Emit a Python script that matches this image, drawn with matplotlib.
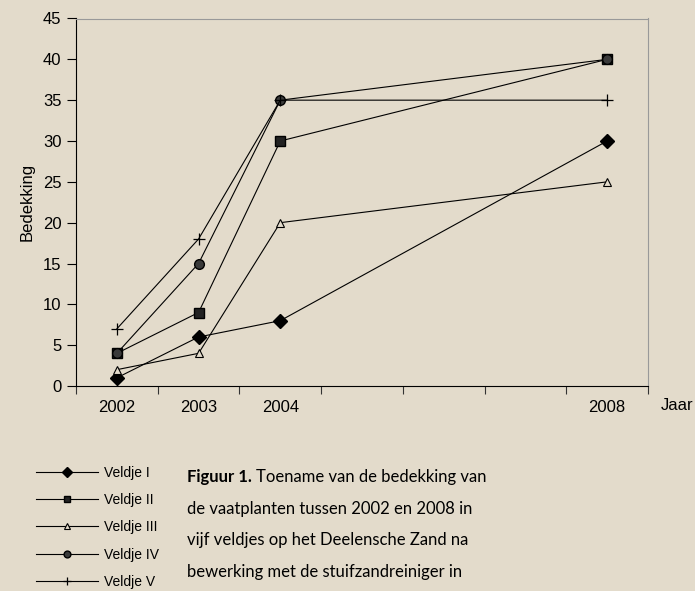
import numpy as np
import matplotlib.pyplot as plt

jaren = ["2002", "2003", "2004", "", "", "", "2008"]
pos = [0, 1, 2, 6]

veldje_1 = [1, 6, 8, 30]
veldje_2 = [4, 9, 30, 40]
veldje_3 = [2, 4, 20, 25]
veldje_4 = [4, 15, 35, 40]
veldje_5 = [7, 18, 35, 35]
namen = ["Veldje I", "Veldje II", "Veldje III", "Veldje IV", "Veldje V"]

bg = "#e3dbcb"
plt.rcParams['font.family'] = ['Liberation Sans', 'DejaVu Sans']

fig = plt.figure(figsize=(6.95, 5.91), dpi=100, facecolor=bg)
ax = fig.add_axes([76/695, 1-386/591, (648-76)/695, (386-18.5)/591])
ax.set_facecolor(bg)

stijlen = [
    dict(marker="D", ms=7, mfc="black", mec="black"),
    dict(marker="s", ms=6.5, mfc="#222222", mec="black"),
    dict(marker="^", ms=6, mfc=bg, mec="black", mew=0.8),
    dict(marker="o", ms=7, mfc="#3a3a3a", mec="black"),
    dict(marker="+", ms=8, mfc="black", mec="black", mew=0.9),
]
reeksen = [veldje_1, veldje_2, veldje_3, veldje_4, veldje_5]
handles = []
for y, st, naam in zip(reeksen, stijlen, namen):
    ax.plot(pos, y, color="black", lw=0.8, clip_on=False, **st)
    # kleinere markers in de legenda
    kl = dict(st)
    kl["ms"] = st["ms"] * 0.7
    h, = ax.plot([], [], color="black", lw=0.8, label=naam, **kl)
    handles.append(h)

ax.set_xlim(-0.5, 6.5)
ax.set_ylim(0, 45)
ax.set_yticks(np.arange(0, 46, 5))
ax.set_xticks(np.arange(-0.5, 7, 1))
ax.set_xticklabels([])
ax.set_xticks(range(7), minor=True)
ax.set_xticklabels(jaren, minor=True)
ax.tick_params(axis="x", which="major", direction="out", length=6, width=0.8, color="#333333")
ax.tick_params(axis="x", which="minor", length=0, pad=10, labelsize=12)
ax.tick_params(axis="y", direction="out", length=6.5, width=0.8, pad=4, labelsize=12)

for s in ["left", "bottom"]:
    ax.spines[s].set_color("black")
    ax.spines[s].set_linewidth(0.8)
for s in ["top", "right"]:
    ax.spines[s].set_color("#999999")
    ax.spines[s].set_linewidth(0.8)

ax.set_ylabel("Bedekking", fontsize=12, labelpad=6)
fig.text(661/695, 1-406/591, "Jaar", fontsize=12, ha="left", va="center")

fig.legend(handles=handles, loc="upper left", bbox_to_anchor=(30/695, 1-460/591),
           frameon=False, handlelength=4.5, labelspacing=0.96, fontsize=10,
           handletextpad=0.4, borderaxespad=0)

caption = ["de vaatplanten tussen 2002 en 2008 in",
           "vijf veldjes op het Deelensche Zand na",
           "bewerking met de stuifzandreiniger in"]
cf = ['Lato', 'DejaVu Sans']
t = fig.text(187/695, 1-477/591, "Figuur 1.", fontsize=12, fontweight="bold",
             family=cf, va="center", ha="left")
fig.canvas.draw()
bb = t.get_window_extent()
fig.text((bb.x1 + 4)/695, 1-477/591, "Toename van de bedekking van", fontsize=12,
         family=cf, va="center", ha="left")
for i, regel in enumerate(caption):
    fig.text(187/695, 1-(509 + 31.5*i)/591, regel, fontsize=12, family=cf,
             va="center", ha="left")

fig.savefig("out.png", dpi=100, facecolor=bg)
